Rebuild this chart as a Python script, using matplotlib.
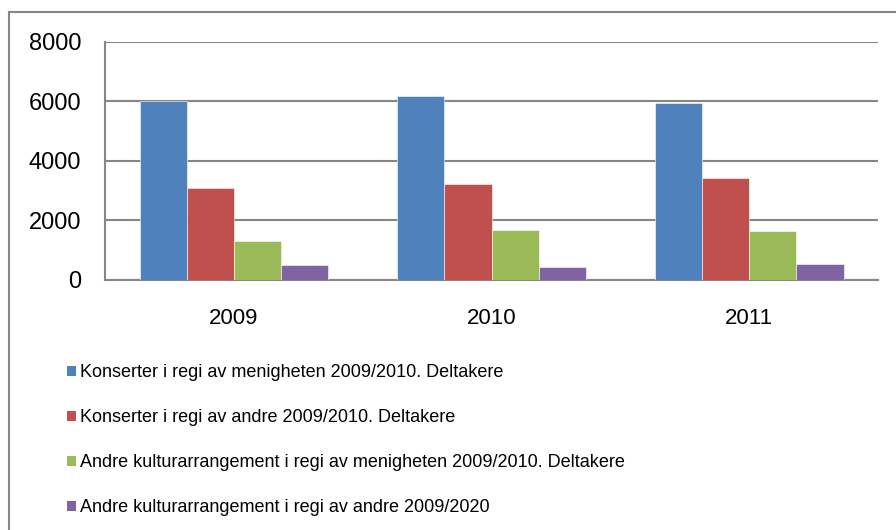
import matplotlib.pyplot as plt
import numpy as np
from matplotlib.patches import Rectangle, Patch

plt.rcParams['font.family'] = ['Liberation Sans', 'DejaVu Sans']

years = ['2009', '2010', '2011']
series_names = [
    'Konserter i regi av menigheten 2009/2010. Deltakere',
    'Konserter i regi av andre 2009/2010. Deltakere',
    'Andre kulturarrangement i regi av menigheten 2009/2010. Deltakere',
    'Andre kulturarrangement i regi av andre 2009/2020',
]
konserter_menighet = [6000, 6190, 5950]
konserter_andre = [3100, 3230, 3430]
kultur_menighet = [1320, 1690, 1655]
kultur_andre = [490, 450, 525]
colors = ['#4F81BD', '#C0504D', '#9BBB59', '#8064A2']

values = [konserter_menighet, konserter_andre, kultur_menighet, kultur_andre]

fig = plt.figure(figsize=(8.96, 5.30), dpi=100)
ax = fig.add_axes([0.1172, 0.4717, 0.8628, 0.4491])

x = np.arange(len(years))
w = 0.183
for i, (vals, c) in enumerate(zip(values, colors)):
    ax.bar(x + (i - 1.5) * w, vals, w, color=c, edgecolor='white',
           linewidth=0.4, zorder=3)

ax.set_xlim(-0.5, 2.5)
ax.set_ylim(0, 8000)
ax.set_yticks([0, 2000, 4000, 6000, 8000])
ax.set_xticks(x)
ax.set_xticklabels(years)
ax.tick_params(axis='y', length=0, pad=17, labelsize=17)
ax.tick_params(axis='x', length=0, pad=20, labelsize=16)
ax.yaxis.grid(True, color='#868686', linewidth=1.5, zorder=0)
for s in ['top', 'right']:
    ax.spines[s].set_visible(False)
for s in ['left', 'bottom']:
    ax.spines[s].set_color('#868686')
    ax.spines[s].set_linewidth(1.5)

handles = [Patch(facecolor=c, edgecolor='none') for c in colors]
fig.legend(handles, series_names, loc='upper left',
           bbox_to_anchor=(0.067, 0.326), frameon=False, fontsize=13,
           handlelength=0.48, handleheight=0.48, handletextpad=0.2,
           labelspacing=1.55, borderaxespad=0)

fig.patches.append(Rectangle((9 / 896, -0.1), 1.2, 1.1 - 12 / 530,
                             transform=fig.transFigure, fill=False,
                             edgecolor='#868686', linewidth=1.5))

fig.savefig('out.png', dpi=100)
